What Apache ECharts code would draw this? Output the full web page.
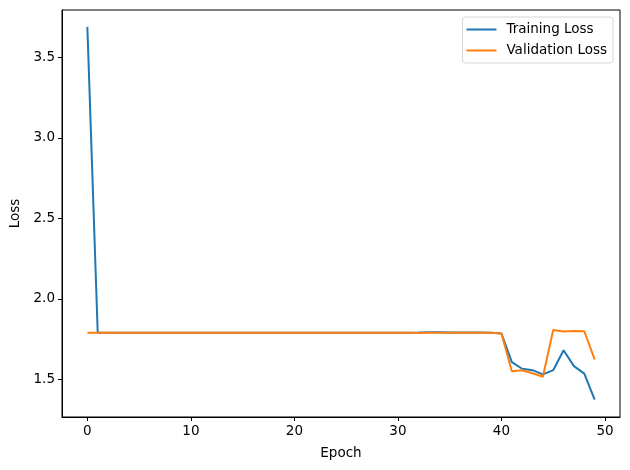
<!DOCTYPE html>
<html>
<head>
<meta charset="utf-8">
<script src="https://cdn.jsdelivr.net/npm/echarts@6/dist/echarts.min.js"></script>
<style>
  html, body { margin: 0; padding: 0; background: #fff; }
  #chart { width: 630px; height: 470px; }
</style>
</head>
<body>
<div id="chart"></div>
<script>
// epochs 0..49
var epochs = [0, 1, 2, 3, 4, 5, 6, 7, 8, 9, 10, 11, 12, 13, 14, 15, 16, 17, 18, 19,
  20, 21, 22, 23, 24, 25, 26, 27, 28, 29, 30, 31, 32, 33, 34, 35, 36, 37, 38, 39,
  40, 41, 42, 43, 44, 45, 46, 47, 48, 49]

var trainLoss = [3.69, 1.789, 1.789, 1.789, 1.789, 1.789, 1.789, 1.789, 1.789, 1.789,
  1.789, 1.789, 1.789, 1.789, 1.789, 1.789, 1.789, 1.789, 1.789, 1.789,
  1.789, 1.789, 1.789, 1.789, 1.789, 1.789, 1.789, 1.789, 1.789, 1.789,
  1.789, 1.789, 1.790, 1.792, 1.792, 1.791, 1.791, 1.790, 1.790, 1.789,
  1.784, 1.606, 1.565, 1.556, 1.530, 1.556, 1.680, 1.581, 1.535, 1.373]

var valLoss = [1.789, 1.789, 1.789, 1.789, 1.789, 1.789, 1.789, 1.789, 1.789, 1.789,
  1.789, 1.789, 1.789, 1.789, 1.789, 1.789, 1.789, 1.789, 1.789, 1.789,
  1.789, 1.789, 1.789, 1.789, 1.789, 1.789, 1.789, 1.789, 1.789, 1.789,
  1.789, 1.788, 1.787, 1.789, 1.789, 1.789, 1.789, 1.789, 1.789, 1.788,
  1.784, 1.550, 1.556, 1.537, 1.515, 1.806, 1.796, 1.800, 1.798, 1.623]

var xTicks = [0, 10, 20, 30, 40, 50]
var yTicks = [1.5, 2.0, 2.5, 3.0, 3.5]

function pairs(ys) {
  return epochs.map(function(e, i) { return [e, ys[i]] })
}

var chart = echarts.init(document.getElementById('chart'), null, { renderer: 'canvas' })
var font = 'DejaVu Sans'

chart.setOption({
  animation: false,
  textStyle: { fontFamily: font },
  grid: {
    left: 62,
    right: 10,
    top: 10,
    bottom: 53,
    show: true,
    borderColor: '#000',
    borderWidth: 1
  },
  legend: {
    orient: 'vertical',
    right: 17,
    top: 17,
    padding: [5, 6, 5, 4],
    itemGap: 6,
    itemWidth: 30,
    itemHeight: 2,
    icon: 'rect',
    backgroundColor: '#fff',
    borderColor: '#d6d6d6',
    borderWidth: 1,
    borderRadius: 3,
    textStyle: { fontFamily: font, fontSize: 13.5, color: '#000', lineHeight: 15, padding: [0, 0, 0, 5] },
    data: ['Training Loss', 'Validation Loss']
  },
  xAxis: {
    type: 'value',
    min: -2.45,
    max: 51.45,
    name: 'Epoch',
    nameLocation: 'middle',
    nameGap: 29,
    nameTextStyle: { fontFamily: font, fontSize: 13.5, color: '#000' },
    splitLine: { show: false },
    axisLine: { show: true, onZero: false, lineStyle: { color: '#000', width: 1 } },
    axisTick: { show: true, inside: false, length: 4, customValues: xTicks, lineStyle: { color: '#000' } },
    axisLabel: { customValues: xTicks, fontFamily: font, fontSize: 13.5, color: '#000', margin: 7 }
  },
  yAxis: {
    type: 'value',
    min: 1.265,
    max: 3.795,
    name: 'Loss',
    nameLocation: 'middle',
    nameGap: 38,
    nameTextStyle: { fontFamily: font, fontSize: 13.5, color: '#000' },
    splitLine: { show: false },
    axisLine: { show: true, onZero: false, lineStyle: { color: '#000', width: 1 } },
    axisTick: { show: true, inside: false, length: 4, customValues: yTicks, lineStyle: { color: '#000' } },
    axisLabel: {
      customValues: yTicks,
      fontFamily: font,
      fontSize: 13.5,
      color: '#000',
      margin: 7,
      formatter: function(v) { return v.toFixed(1) }
    }
  },
  series: [
    {
      name: 'Training Loss',
      type: 'line',
      symbol: 'none',
      itemStyle: { color: '#1f77b4' },
      lineStyle: { color: '#1f77b4', width: 2 },
      data: pairs(trainLoss)
    },
    {
      name: 'Validation Loss',
      type: 'line',
      symbol: 'none',
      itemStyle: { color: '#ff7f0e' },
      lineStyle: { color: '#ff7f0e', width: 2 },
      data: pairs(valLoss)
    }
  ]
})
</script>
</body>
</html>
